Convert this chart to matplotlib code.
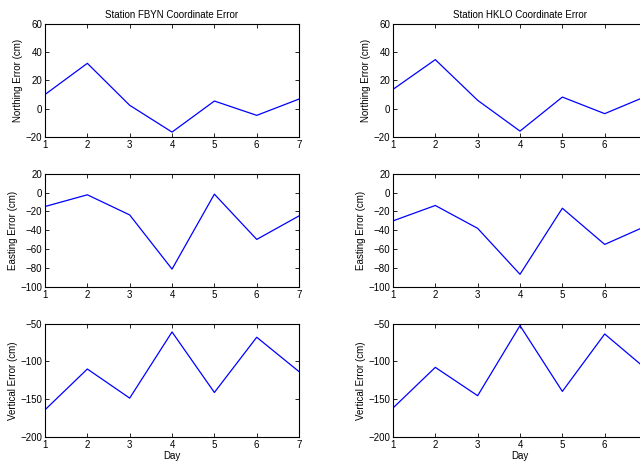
import matplotlib
matplotlib.use('Agg')
import matplotlib.pyplot as plt

plt.rcParams['font.family'] = ['Liberation Sans', 'DejaVu Sans']
plt.rcParams['font.size'] = 7

days = [1, 2, 3, 4, 5, 6, 7]

# station FBYN
fbyn_north = [10, 32, 2.4, -16.5, 5.4, -4.7, 6.8]
fbyn_east = [-14.8, -2.4, -23.7, -81, -1.7, -49.6, -24.7]
fbyn_vert = [-164, -110, -148.5, -61, -141, -68, -113.5]

# station HKLO
hklo_north = [13.6, 34.6, 5.9, -15.8, 8.2, -3.5, 9]
hklo_east = [-30, -13.7, -37.9, -86.5, -16.6, -54.9, -35]
hklo_vert = [-161.6, -107.8, -145.3, -52.6, -139.6, -63.7, -111]

stations = ['FBYN', 'HKLO']
labels = ['Northing Error (cm)', 'Easting Error (cm)', 'Vertical Error (cm)']
ylims = [(-20, 60), (-100, 20), (-200, -50)]
yticks = [range(-20, 61, 20), range(-100, 21, 20), range(-200, -49, 50)]
data = [[fbyn_north, fbyn_east, fbyn_vert],
        [hklo_north, hklo_east, hklo_vert]]

fig = plt.figure(figsize=(6.4, 4.63), dpi=100)

# right column runs past the figure edge, as in the original
lefts = [0.0703, 0.614]
bottoms = [0.704, 0.380, 0.056]
w = 0.397
h = 0.245

for c in range(2):
    for r in range(3):
        ax = fig.add_axes([lefts[c], bottoms[r], w, h])
        ax.plot(days, data[c][r], color='blue', linewidth=0.9)
        ax.set_xlim(1, 7)
        ax.set_ylim(ylims[r])
        ax.set_xticks(days)
        if c == 1:
            # last day label falls outside the figure
            ax.set_xticklabels([str(d) for d in days[:-1]] + [''])
        ax.set_yticks(list(yticks[r]))
        ax.tick_params(direction='in', top=True, right=True, length=3,
                       width=0.6, pad=2, labelsize=7)
        for s in ax.spines.values():
            s.set_linewidth(0.8)
        ax.set_ylabel(labels[r], fontsize=7, labelpad=2)
        if r == 0:
            ax.set_title('Station %s Coordinate Error' % stations[c], fontsize=7, pad=4)
        if r == 2:
            ax.set_xlabel('Day', fontsize=7, labelpad=1)

fig.savefig('out.png', dpi=100)
